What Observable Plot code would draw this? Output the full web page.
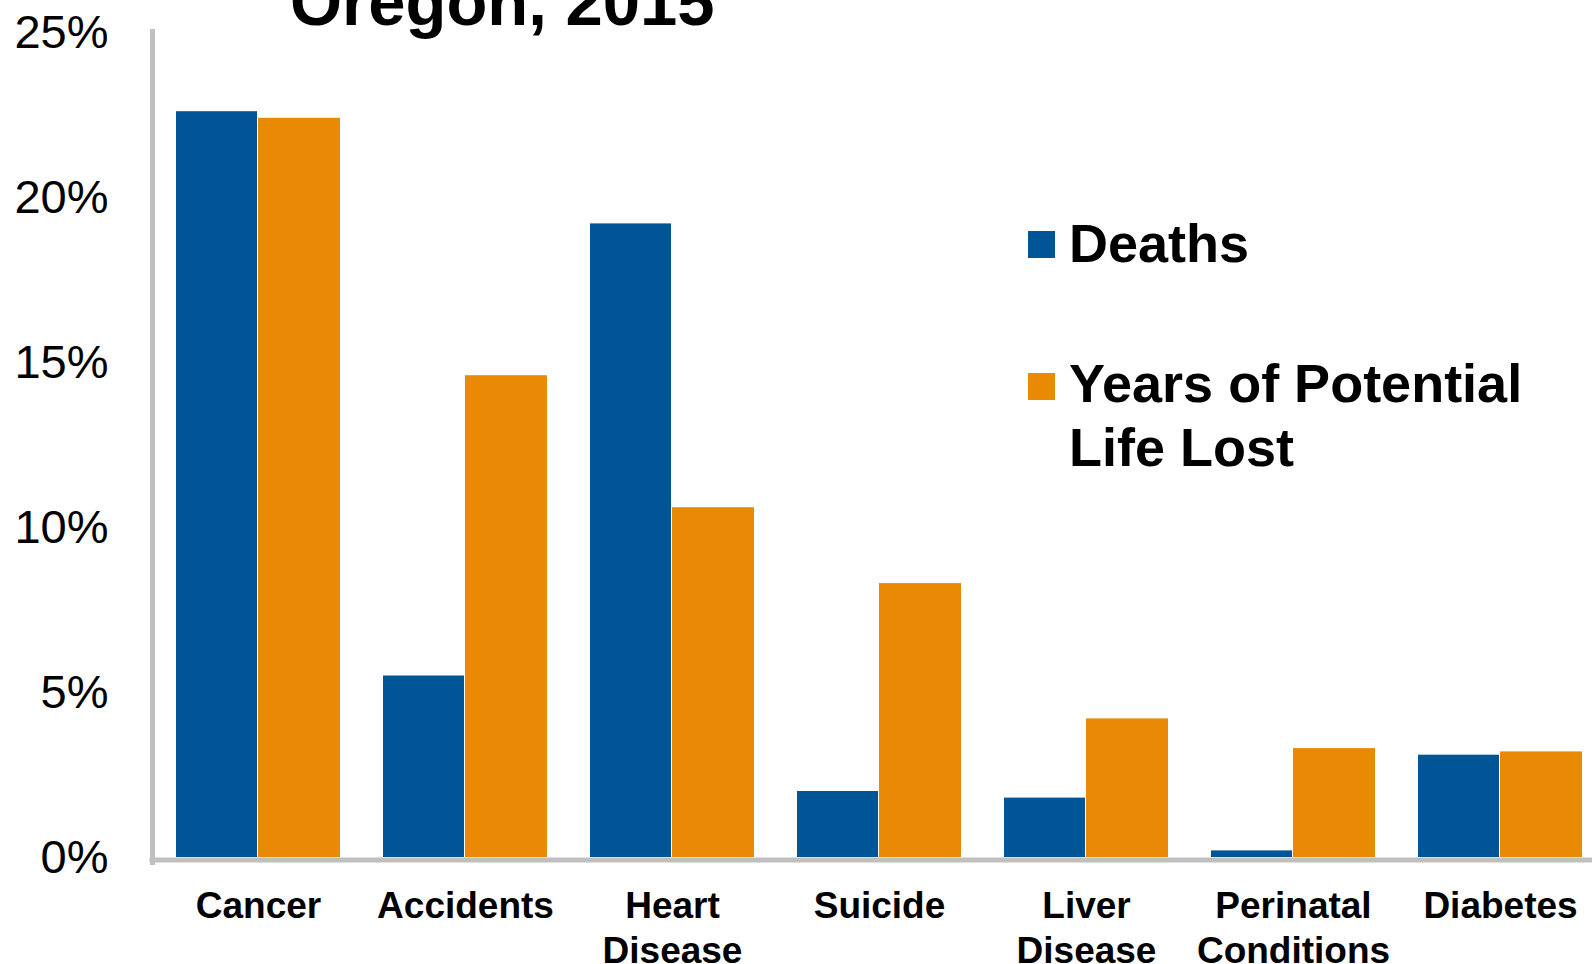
<!DOCTYPE html>
<html>
<head>
<meta charset="utf-8">
<script src="https://cdn.jsdelivr.net/npm/d3@7"></script>
<script src="https://cdn.jsdelivr.net/npm/@observablehq/plot@0.6"></script>
<style>
  html, body { margin: 0; padding: 0; background: #fff; overflow: hidden; }
  #wrap { position: relative; width: 1592px; height: 964px; font-family: "Liberation Sans", Arial, sans-serif; }
  #title { position: absolute; left: 290px; top: -32px; font-size: 67px; line-height: 67px; font-weight: bold; color: #000; white-space: nowrap; }
  .leg { position: absolute; left: 1028px; font-size: 54px; font-weight: bold; line-height: 64px; color: #000; }
  .leg .sw { position: absolute; left: 0; width: 27px; height: 27px; }
  .leg .lab { position: absolute; left: 41px; white-space: nowrap; }
</style>
</head>
<body>
<div id="wrap">
  <div id="chart"></div>
  <div id="title">Oregon, 2015</div>
  <div id="legend"></div>
</div>
<script>
// ---- data ----
const causes = ["Cancer", "Accidents", "Heart Disease", "Suicide", "Liver Disease", "Perinatal Conditions", "Diabetes"];
const causeLabels = ["Cancer", "Accidents", "Heart\nDisease", "Suicide", "Liver\nDisease", "Perinatal\nConditions", "Diabetes"];
const deaths = [22.6, 5.5, 19.2, 2.0, 1.8, 0.2, 3.1];
const ypll = [22.4, 14.6, 10.6, 8.3, 4.2, 3.3, 3.2];
const seriesNames = ["Deaths", "Years of Potential Life Lost"];
const seriesColors = ["#005596", "#EA8A04"];
const yTicks = [0, 5, 10, 15, 20, 25];

const deathRows = causes.map((c, i) => ({cause: c, series: seriesNames[0], value: deaths[i]}));
const ypllRows = causes.map((c, i) => ({cause: c, series: seriesNames[1], value: ypll[i]}));
const labelOf = new Map(causes.map((c, i) => [c, causeLabels[i]]));

const chart = Plot.plot({
  width: 1592,
  height: 964,
  marginLeft: 152,
  marginRight: 0,
  marginTop: 32,
  marginBottom: 107,
  style: {fontFamily: "Liberation Sans, Arial, sans-serif", color: "#000", background: "#fff"},
  x: {domain: causes, paddingInner: 0.21, paddingOuter: 0.08, align: 0.7, axis: null},
  y: {domain: [0, 25], axis: null},
  color: {domain: seriesNames, range: seriesColors},
  marks: [
    Plot.barY(deathRows, {x: "cause", y: "value", fill: "series", insetLeft: 0, insetRight: 83}),
    Plot.barY(ypllRows, {x: "cause", y: "value", fill: "series", insetLeft: 82, insetRight: 0}),
    Plot.axisY({ticks: yTicks, tickFormat: d => d + "%", tickSize: 0, tickPadding: 44, fontSize: 47, fontWeight: "normal", label: null}),
    Plot.axisX({tickFormat: d => labelOf.get(d), tickSize: 0, tickPadding: 28, fontSize: 37, fontWeight: "bold", lineHeight: 1.22, label: null}),
    Plot.ruleY([0], {stroke: "#bfbfbf", strokeWidth: 5, dy: 2.5, insetLeft: -2.5}),
    Plot.frame({anchor: "left", stroke: "#bfbfbf", strokeWidth: 5, insetTop: -1, insetBottom: -5})
  ]
});
document.getElementById("chart").appendChild(chart);

// ---- legend (HTML overlay) ----
const legend = document.getElementById("legend");
const legendTops = [[231, 211], [373, 351]];
seriesNames.forEach((name, i) => {
  const item = document.createElement("div");
  item.className = "leg";
  item.style.top = "0px";
  const sw = document.createElement("div");
  sw.className = "sw";
  sw.style.background = seriesColors[i];
  sw.style.top = legendTops[i][0] + "px";
  const lab = document.createElement("div");
  lab.className = "lab";
  lab.style.top = legendTops[i][1] + "px";
  lab.innerHTML = i === 1 ? "Years of Potential<br>Life Lost" : name;
  item.appendChild(sw);
  item.appendChild(lab);
  legend.appendChild(item);
});
</script>
</body>
</html>
